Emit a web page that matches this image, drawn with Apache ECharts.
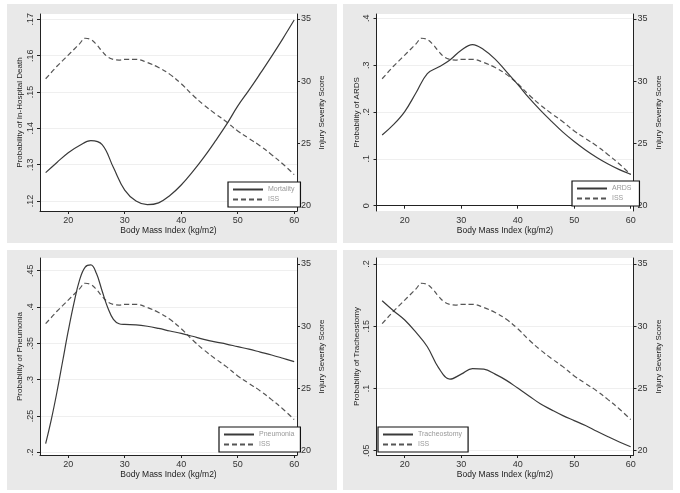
<!DOCTYPE html>
<html><head><meta charset="utf-8">
<script src="https://cdn.jsdelivr.net/npm/echarts@6/dist/echarts.min.js"></script>
<style>html,body{margin:0;padding:0;background:#fff}#c{width:680px;height:493px}</style>
</head><body><div id="c"></div>
<script>
// ---- data ----
const bmiTicks = [20, 30, 40, 50, 60];
const issTicks = [20, 25, 30, 35];

const bmiISS = [16, 17, 18, 19, 20, 21, 22, 23, 24, 25, 26, 27, 28, 29, 30, 32, 34, 36, 38, 40, 42, 44, 46, 48, 50, 52, 54, 56, 58, 60];
const issValues = [30.2, 30.7, 31.2, 31.65, 32.1, 32.55, 33.0, 33.45, 33.35, 32.95, 32.4, 31.95, 31.75, 31.7, 31.75, 31.75, 31.5, 31.1, 30.55, 29.8, 28.9, 28.1, 27.4, 26.75, 26.0, 25.4, 24.8, 24.1, 23.35, 22.5];

const bmiMort = [16, 18, 20, 22, 24, 26, 28, 30, 32, 34, 36, 38, 40, 42, 44, 46, 48, 50, 52, 54, 56, 58, 60];
const mortality = [.1278, .1306, .1333, .1353, .1366, .1355, .1292, .1230, .1200, .1190, .1195, .1215, .1244, .1280, .1320, .1364, .1410, .1461, .1505, .1551, .1598, .1647, .1698];
const mortTicks = [.12, .13, .14, .15, .16, .17];

const bmiARDS = [16, 18, 20, 22, 24, 26, 28, 30, 32, 34, 36, 38, 40, 42, 44, 46, 48, 50, 52, 54, 56, 58, 60];
const ards = [.151, .173, .201, .241, .282, .296, .311, .332, .344, .333, .313, .286, .259, .230, .204, .180, .157, .137, .119, .103, .089, .077, .067];
const ardsTicks = [0, .1, .2, .3, .4];

const bmiPneu = [16, 17, 18, 19, 20, 21, 22, 23, 24, 25, 26, 27, 28, 29, 30, 32, 34, 36, 38, 40, 42, 44, 46, 48, 50, 52, 54, 56, 58, 60];
const pneumonia = [.212, .245, .283, .325, .367, .405, .437, .455, .458, .446, .422, .399, .383, .377, .376, .3755, .3735, .3705, .367, .3637, .3597, .3555, .352, .349, .3454, .342, .338, .334, .3295, .3248];
const pneuTicks = [.2, .25, .3, .35, .4, .45];

const bmiTrach = [16, 18, 20, 22, 24, 26, 28, 30, 32, 34, 36, 38, 40, 42, 44, 46, 48, 50, 52, 54, 56, 58, 60];
const tracheostomy = [.1705, .1625, .155, .145, .1335, .1165, .1075, .1115, .116, .1155, .1115, .1065, .1003, .094, .0877, .0828, .0782, .0742, .0702, .0656, .0612, .057, .0532];
const trachTicks = [.05, .1, .15, .2];

const leftTitles = ['Probability of In-Hospital Death', 'Probability of ARDS', 'Probability of Pneumonia', 'Probability of Tracheostomy'];
const seriesNames = ['Mortality', 'ARDS', 'Pneumonia', 'Tracheostomy'];
const rightTitle = 'Injury Severity Score';
const xTitle = 'Body Mass Index (kg/m2)';

// ---- layout ----
const FONT = 'Liberation Sans, Arial, sans-serif';
const panels = [
  {bx: 7, by: 4, bw: 330, bh: 239, left: 40, top: 14, yMin: .11725, yMax: .17146, rMin: 19.574, rMax: 35.40,
   bmi: bmiMort, vals: mortality, ticks: mortTicks, leg: {left: 228, top: 182, padding: [4, 6, 4, 4]}},
  {bx: 343, by: 4, bw: 330, bh: 239, left: 376.5, top: 14, yMin: -.01131, yMax: .40918, rMin: 19.574, rMax: 35.40,
   bmi: bmiARDS, vals: ards, ticks: ardsTicks, leg: {left: 572, top: 181, padding: [4, 8, 4, 4]}},
  {bx: 7, by: 250, bw: 330, bh: 240, left: 40, top: 258, yMin: .19628, yMax: .46748, rMin: 19.65, rMax: 35.48,
   bmi: bmiPneu, vals: pneumonia, ticks: pneuTicks, leg: {left: 219, top: 427, padding: [4, 6, 4, 4]}},
  {bx: 343, by: 250, bw: 330, bh: 240, left: 376.5, top: 258, yMin: .04655, yMax: .20482, rMin: 19.65, rMax: 35.48,
   bmi: bmiTrach, vals: tracheostomy, ticks: trachTicks, leg: {left: 378, top: 427, padding: [4, 6, 4, 4]}}
];
const GW = 257, GH = 197;

const fmtLeft = v => {
  const s = (+v.toFixed(3)).toString();
  return s.replace(/^0\./, '.').replace(/^-0\./, '-.');
};

const option = {
  animation: false,
  textStyle: {fontFamily: FONT},
  graphic: [],
  grid: [], xAxis: [], yAxis: [], series: [], legend: []
};

panels.forEach((p, i) => {
  option.graphic.push({type: 'rect', z: -100, silent: true,
    shape: {x: p.bx, y: p.by, width: p.bw, height: p.bh}, style: {fill: '#e9e9e9'}});
  option.grid.push({left: p.left, top: p.top, width: GW, height: GH, show: true,
    backgroundColor: '#ffffff', borderWidth: 0, containLabel: false});
  const axisLine = {show: true, lineStyle: {color: '#222', width: 1}};
  option.xAxis.push({type: 'value', gridIndex: i, min: 15, max: 60.5,
    axisLine, axisTick: {show: true, length: 3, customValues: bmiTicks, lineStyle: {color: '#222'}},
    axisLabel: {customValues: bmiTicks, fontSize: 9, color: '#333', margin: 5, fontFamily: FONT},
    splitLine: {show: false},
    name: xTitle, nameLocation: 'middle', nameGap: 14,
    nameTextStyle: {fontSize: 8.5, color: '#222', fontFamily: FONT}});
  option.yAxis.push({type: 'value', gridIndex: i, position: 'left', min: p.yMin, max: p.yMax,
    axisLine, axisTick: {show: true, length: 3, customValues: p.ticks, lineStyle: {color: '#222'}},
    axisLabel: {customValues: p.ticks, fontSize: 9, color: '#333', margin: 5, rotate: 90,
      formatter: fmtLeft, fontFamily: FONT},
    splitLine: {show: true, lineStyle: {color: '#efefef', width: 1}},
    name: leftTitles[i], nameLocation: 'middle', nameRotate: 90, nameGap: 16,
    nameTextStyle: {fontSize: 8, color: '#222', fontFamily: FONT}});
  option.yAxis.push({type: 'value', gridIndex: i, position: 'right', min: p.rMin, max: p.rMax,
    axisLine, axisTick: {show: true, length: 3, customValues: issTicks, lineStyle: {color: '#222'}},
    axisLabel: {customValues: issTicks, fontSize: 9, color: '#333', margin: 4, fontFamily: FONT},
    splitLine: {show: false},
    name: rightTitle, nameLocation: 'middle', nameRotate: 90, nameGap: 21,
    nameTextStyle: {fontSize: 8, color: '#222', fontFamily: FONT}});
  option.series.push({type: 'line', name: seriesNames[i], xAxisIndex: i, yAxisIndex: 2 * i,
    data: p.bmi.map((x, k) => [x, p.vals[k]]), symbol: 'none', smooth: 0.4,
    lineStyle: {color: '#3a3a3a', width: 1.2, type: 'solid'}, itemStyle: {color: '#3a3a3a'}, z: 3});
  option.series.push({type: 'line', name: 'ISS', xAxisIndex: i, yAxisIndex: 2 * i + 1,
    data: bmiISS.map((x, k) => [x, issValues[k]]), symbol: 'none', smooth: 0.4,
    lineStyle: {color: '#555', width: 1.2, type: [5, 3]}, itemStyle: {color: '#555'}, z: 2});
  option.legend.push({orient: 'vertical', left: p.leg.left, top: p.leg.top, padding: p.leg.padding,
    data: [seriesNames[i], 'ISS'], itemWidth: 30, itemHeight: 8, itemGap: 3,
    itemStyle: {opacity: 0},
    backgroundColor: '#fff', borderColor: '#111', borderWidth: 1.2, borderRadius: 0,
    textStyle: {fontSize: 7, color: '#999', fontFamily: FONT}, selectedMode: false});
});

const chart = echarts.init(document.getElementById('c'), null, {renderer: 'canvas'});
chart.setOption(option);
</script>
</body></html>
